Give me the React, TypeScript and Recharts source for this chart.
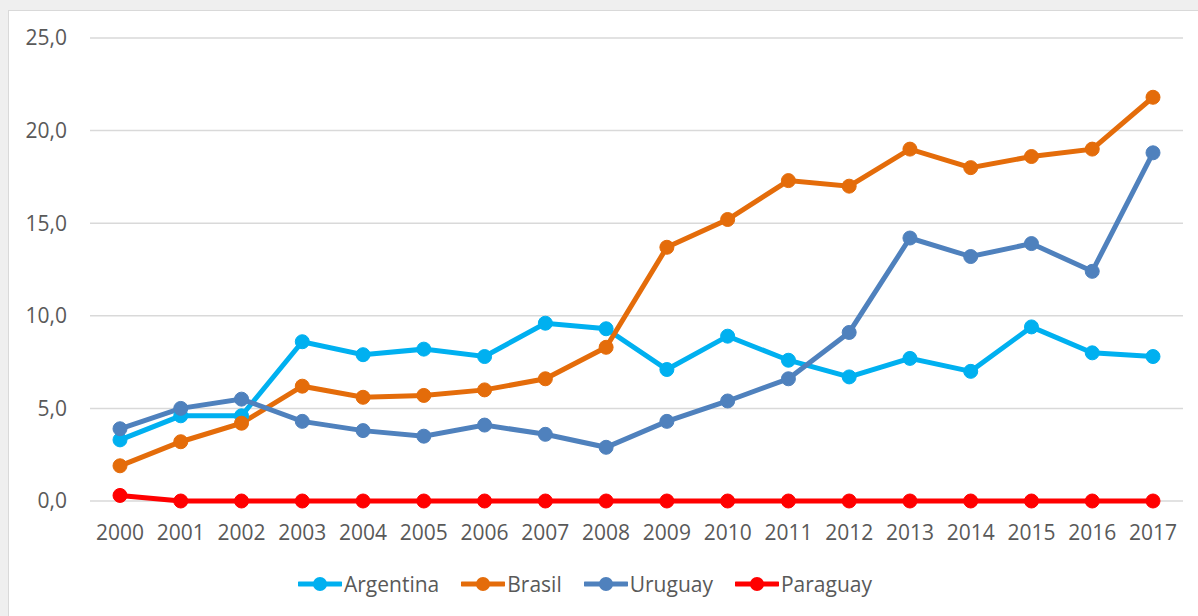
import React from "react";
import { CartesianGrid, Legend, Line, LineChart, XAxis, YAxis } from "recharts";

const years = [
  "2000", "2001", "2002", "2003", "2004", "2005", "2006", "2007", "2008",
  "2009", "2010", "2011", "2012", "2013", "2014", "2015", "2016", "2017",
];
const argentina = [3.3, 4.6, 4.6, 8.6, 7.9, 8.2, 7.8, 9.6, 9.3, 7.1, 8.9, 7.6, 6.7, 7.7, 7.0, 9.4, 8.0, 7.8];
const brasil = [1.9, 3.2, 4.2, 6.2, 5.6, 5.7, 6.0, 6.6, 8.3, 13.7, 15.2, 17.3, 17.0, 19.0, 18.0, 18.6, 19.0, 21.8];
const uruguay = [3.9, 5.0, 5.5, 4.3, 3.8, 3.5, 4.1, 3.6, 2.9, 4.3, 5.4, 6.6, 9.1, 14.2, 13.2, 13.9, 12.4, 18.8];
const paraguay = [0.3, 0, 0, 0, 0, 0, 0, 0, 0, 0, 0, 0, 0, 0, 0, 0, 0, 0];
const yTicks = [0, 5, 10, 15, 20, 25];

const series = [
  { key: "Argentina", color: "#00B0F0" },
  { key: "Brasil", color: "#E46C0A" },
  { key: "Uruguay", color: "#4F81BD" },
  { key: "Paraguay", color: "#FF0000" },
];

const data = years.map((year, i) => ({
  year,
  Argentina: argentina[i],
  Brasil: brasil[i],
  Uruguay: uruguay[i],
  Paraguay: paraguay[i],
}));

const FONT = "'Open Sans', sans-serif";
const TEXT = "#595959";

function LegendBox() {
  return (
    <div style={{ display: "flex", justifyContent: "center", alignItems: "center", height: 40, fontFamily: FONT, fontSize: 21, color: TEXT }}>
      {series.map((s) => (
        <div key={s.key} style={{ display: "flex", alignItems: "center", marginRight: 22 }}>
          <svg width={44} height={16} style={{ marginRight: 2 }}>
            <line x1={1} y1={8} x2={43} y2={8} stroke={s.color} strokeWidth={5} strokeLinecap="round" />
            <circle cx={22} cy={8} r={7} fill={s.color} />
          </svg>
          <span>{s.key}</span>
        </div>
      ))}
    </div>
  );
}

export default function App() {
  return (
    <div style={{ position: "absolute", left: 0, top: 0, width: 1198, height: 616, background: "#efefef", overflow: "hidden" }}>
      <div style={{ position: "absolute", left: 8, top: 10, width: 1190, height: 606, background: "#fff", borderLeft: "1px solid #d9d9d9", borderTop: "1px solid #d9d9d9" }}>
        <LineChart width={1189} height={605} data={data} margin={{ top: 27, right: 15, left: 0, bottom: 12 }}>
          <CartesianGrid vertical={false} stroke="#d9d9d9" strokeWidth={1.5} />
          <XAxis
            dataKey="year"
            axisLine={false}
            tickLine={false}
            tickSize={0}
            tickMargin={24}
            height={63}
            interval={0}
            padding={{ left: 30, right: 30 }}
            tick={{ fill: TEXT, fontSize: 21, fontFamily: FONT }}
          />
          <YAxis
            domain={[0, 25]}
            ticks={yTicks}
            width={81}
            axisLine={false}
            tickLine={false}
            tickSize={0}
            tickMargin={23}
            tickFormatter={(v: number) => v.toFixed(1).replace(".", ",")}
            tick={{ fill: TEXT, fontSize: 21, fontFamily: FONT }}
          />
          <Legend verticalAlign="bottom" height={40} content={<LegendBox />} />
          {series.map((s) => (
            <Line
              key={s.key}
              dataKey={s.key}
              stroke={s.color}
              strokeWidth={5}
              dot={{ r: 7, fill: s.color, stroke: s.color, strokeWidth: 1 }}
              activeDot={false}
              isAnimationActive={false}
            />
          ))}
        </LineChart>
      </div>
    </div>
  );
}
